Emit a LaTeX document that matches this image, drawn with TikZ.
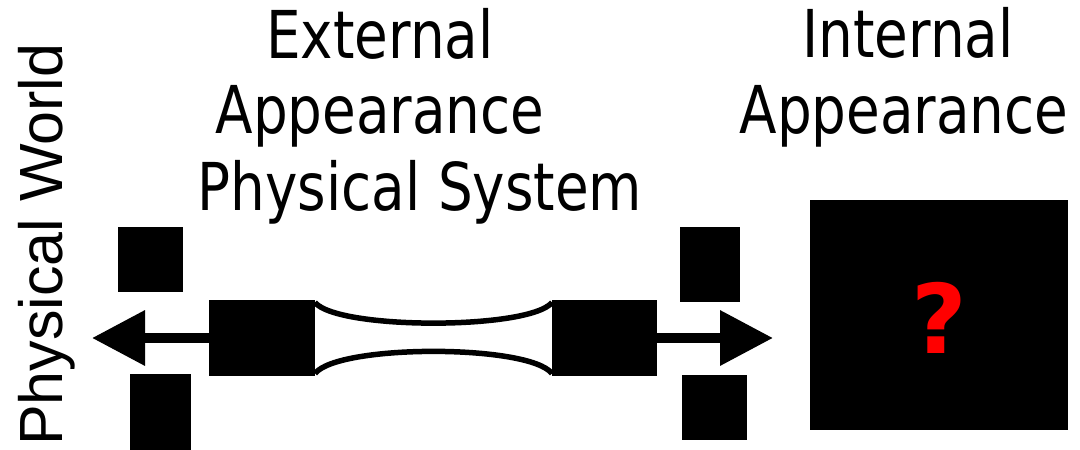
\documentclass[tikz,border=0pt]{standalone}
\usepackage{fontspec}
\setmainfont{DejaVu Sans}
\newfontfamily\sidefont{Liberation Sans}
\newfontfamily\headfont[FakeStretch=0.83]{DejaVu Sans}
\usetikzlibrary{arrows.meta}
\begin{document}
\begin{tikzpicture}[x=1pt,y=-1pt,
  blk/.style={fill=black, inner sep=0pt, outer sep=0pt},
  heading/.style={font=\headfont\fontsize{66}{78}\selectfont, anchor=base, inner sep=0pt},
  flow/.style={line width=10pt, -{Triangle[length=53pt,width=53pt]}},
  tube/.style={line width=5.5pt}]
\useasboundingbox (0,0) rectangle (1080,450);

% side label
\node[font=\sidefont\fontsize{61}{70}\selectfont, rotate=90, anchor=base west, inner sep=0pt]
  (world) at (62,446) {Physical World};

% headings
\node[heading] (ext1) at (380,58) {External};
\node[heading] (ext2) at (380,133) {Appearance};
\node[heading] (ext3) at (420,210) {Physical System};
\node[heading] (int1) at (908,57) {Internal};
\node[heading] (int2) at (904,133) {Appearance};

% small squares
\node[blk, minimum width=65pt, minimum height=65pt] (tl) at (150.5,259.5) {};
\node[blk, minimum width=61pt, minimum height=76pt] (bl) at (160.5,412) {};
\node[blk, minimum width=60pt, minimum height=75pt] (tr) at (710,264.5) {};
\node[blk, minimum width=65pt, minimum height=65pt] (br) at (714.5,407.5) {};

% end blocks of the system
\node[blk, minimum width=106pt, minimum height=76pt] (lblock) at (262,338) {};
\node[blk, minimum width=105pt, minimum height=76pt] (rblock) at (604.5,338) {};

% connecting tube
\draw[tube] ([yshift=-2.5pt]lblock.north east) .. controls (338,330) and (529,330) .. ([yshift=-2.5pt]rblock.north west);
\draw[tube] ([yshift=2.5pt]lblock.south east) .. controls (338,344) and (529,344) .. ([yshift=2.5pt]rblock.south west);

% outgoing arrows
\coordinate (ltip) at (92,338);
\coordinate (rtip) at (773,338);
\draw[flow] (lblock.west) -- (ltip);
\draw[flow] (rblock.east) -- (rtip);

% hidden interior
\node[blk, minimum width=258pt, minimum height=230pt] (inner) at (939,315) {};
\node[font=\bfseries\fontsize{96}{110}\selectfont, text=red, anchor=base, inner sep=0pt]
  (q) at (939,353) {?};
\end{tikzpicture}
\end{document}
